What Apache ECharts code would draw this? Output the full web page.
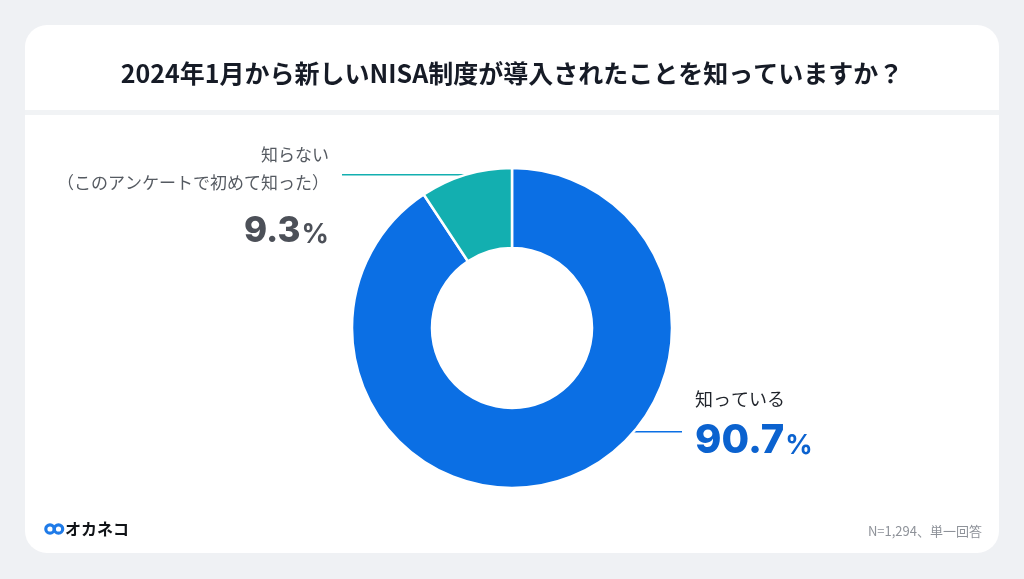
<!DOCTYPE html>
<html>
<head>
<meta charset="utf-8">
<script src="https://cdn.jsdelivr.net/npm/echarts@6/dist/echarts.min.js"></script>
<style>
html,body{margin:0;padding:0;background:#eff1f4;}
#main{width:1024px;height:579px;}
</style>
</head>
<body>
<div id="main"></div>
<script>
const titleText = '2024年1月から新しいNISA制度が導入されたことを知っていますか？';
const categories = ['知っている', '知らない'];
const subLabels = ['', '（このアンケートで初めて知った）'];
const values = [90.7, 9.3];
const colors = ['#0b6fe4', '#13afb0'];
const footnote = 'N=1,294、単一回答';
const brand = 'オカネコ';

const JP = '"Noto Sans CJK JP", "Noto Sans", sans-serif';
const NUM = 'Inter, "Noto Sans", sans-serif';

const chart = echarts.init(document.getElementById('main'), null, {renderer: 'canvas'});

const CX = 512, CY = 328, R0 = 80, R1 = 160;

const data = categories.map((c, i) => ({
  name: c,
  value: values[i],
  itemStyle: {color: colors[i]},
  label: i === 0 ? {
    formatter: p => '{name|' + p.name + '}\n{big|' + p.value.toFixed(1) + '}{pct|%}',
    align: 'left',
    rich: {
      name: {fontFamily: JP, fontSize: 18, color: '#1f232a', lineHeight: 30, align: 'left'},
      big: {fontFamily: NUM, fontSize: 40, fontWeight: 800, color: '#0b62cf', lineHeight: 47, verticalAlign: 'bottom'},
      pct: {fontFamily: NUM, fontSize: 27, fontWeight: 700, color: '#0b62cf', lineHeight: 47, verticalAlign: 'bottom', padding: [0, 0, 2, 1]}
    }
  } : {
    formatter: p => '{name|' + p.name + '}\n{sub|' + subLabels[1] + '}\n{big|' + p.value.toFixed(1) + '}{pct|%}',
    align: 'right',
    rich: {
      name: {fontFamily: JP, fontSize: 17, color: '#555a61', lineHeight: 28, align: 'right'},
      sub: {fontFamily: JP, fontSize: 17, color: '#555a61', lineHeight: 28, align: 'right'},
      big: {fontFamily: NUM, fontSize: 35, fontWeight: 800, color: '#4c5058', lineHeight: 52, verticalAlign: 'bottom'},
      pct: {fontFamily: NUM, fontSize: 27, fontWeight: 700, color: '#4c5058', lineHeight: 52, verticalAlign: 'bottom', padding: [0, 0, 1, 1]}
    }
  }
}));

const option = {
  backgroundColor: '#eff1f4',
  animation: false,
  graphic: [
    {type: 'rect', z: -10, shape: {x: 25, y: 25, width: 974, height: 528, r: 22}, style: {fill: '#ffffff'}},
    {type: 'rect', z: -9, shape: {x: 25, y: 110, width: 974, height: 5}, style: {fill: '#f1f3f5'}},
    {type: 'text', x: 512, y: 73, style: {text: titleText, font: 'bold 25px ' + JP, fill: '#161b26', align: 'center', verticalAlign: 'middle'}},
    {type: 'text', x: 982, y: 531, style: {text: footnote, font: '13px ' + JP, fill: '#8e9299', align: 'right', verticalAlign: 'middle'}},
    {type: 'circle', shape: {cx: 50, cy: 529, r: 4.2}, style: {fill: 'none', stroke: '#1f7be8', lineWidth: 3.2}},
    {type: 'circle', shape: {cx: 58.5, cy: 529, r: 4.2}, style: {fill: 'none', stroke: '#1f7be8', lineWidth: 3.2}},
    {type: 'text', x: 65, y: 529, style: {text: brand, font: 'bold 16px ' + JP, fill: '#111418', align: 'left', verticalAlign: 'middle'}}
  ],
  series: [{
    type: 'pie',
    center: [CX, CY],
    radius: [R0, R1],
    startAngle: 90,
    clockwise: true,
    avoidLabelOverlap: false,
    itemStyle: {borderColor: '#ffffff', borderWidth: 2.5},
    emphasis: {disabled: true},
    label: {show: true, position: 'outside'},
    labelLine: {show: true, length: 10, length2: 10, lineStyle: {width: 1.5}},
    labelLayout: function (p) {
      if (p.dataIndex === 1) {
        const s = p.labelLinePoints[0];
        return {
          x: 329, y: 141, align: 'right', verticalAlign: 'top',
          labelLinePoints: [[s[0], s[1]], [(s[0] + 342) / 2, s[1]], [342, s[1]]]
        };
      } else {
        const ly = 431.7;
        const lx = CX + Math.sqrt(R1 * R1 - (ly - CY) * (ly - CY));
        return {
          x: 695, y: 384, align: 'left', verticalAlign: 'top',
          labelLinePoints: [[lx, ly], [lx + 20, ly], [682, ly]]
        };
      }
    },
    data: data
  }]
};
chart.setOption(option);
</script>
</body>
</html>
